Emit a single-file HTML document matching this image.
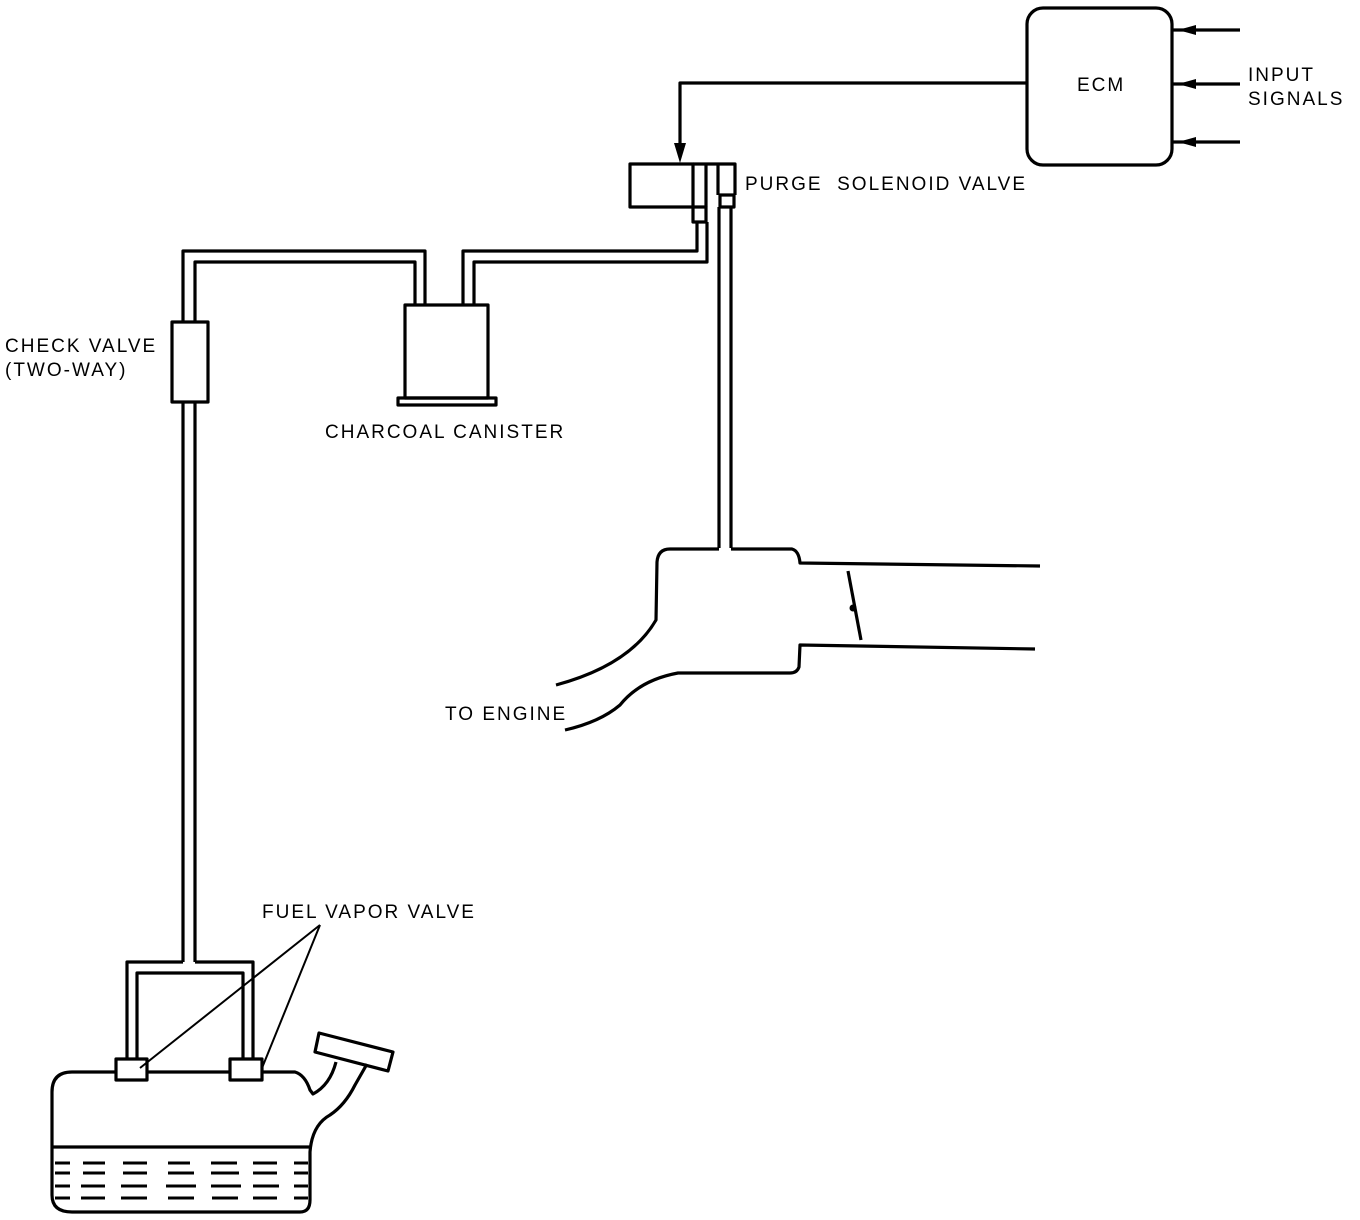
<!DOCTYPE html>
<html><head><style>
html,body{margin:0;padding:0;background:#fff;}
svg{display:block;}
text{font-family:"Liberation Sans",Arial,sans-serif;font-size:19px;fill:#000;letter-spacing:2px;}
</style></head><body>
<svg width="1360" height="1220" viewBox="0 0 1360 1220" xmlns="http://www.w3.org/2000/svg">
<g fill="none" stroke="#000" stroke-width="3.2" stroke-linejoin="round">
<rect x="1027" y="8" width="145" height="157" rx="16"/>
<line x1="1172" y1="30" x2="1240" y2="30"/>
<line x1="1172" y1="84" x2="1240" y2="84"/>
<line x1="1172" y1="142" x2="1240" y2="142"/>
<polyline points="1027,83 680,83 680,150"/>
<rect x="630" y="164" width="63" height="43"/>
<polyline points="693,164 735,164 735,195"/>
<line x1="706" y1="164" x2="706" y2="207"/>
<line x1="718" y1="164" x2="718" y2="195"/>
<rect x="693" y="207" width="13" height="15"/>
<rect x="720" y="195" width="14" height="12"/>
<polyline points="463,305 463,251 697,251 697,222"/>
<polyline points="474,305 474,262 707,262 707,222"/>
<line x1="719" y1="207" x2="719" y2="548"/>
<line x1="731" y1="207" x2="731" y2="548"/>
<polyline points="425,305 425,251 183,251 183,322"/>
<polyline points="415,305 415,262 195,262 195,322"/>
<rect x="405" y="305" width="83" height="93"/>
<rect x="398" y="398" width="98" height="7"/>
<rect x="172" y="322" width="36" height="80"/>
<line x1="183" y1="402" x2="183" y2="962"/>
<line x1="195" y1="402" x2="195" y2="962"/>
<polyline points="183,962 127,962 127,1058"/>
<polyline points="195,962 253,962 253,1058"/>
<polyline points="137,1058 137,973 243,973 243,1058"/>
<rect x="116" y="1059" width="31" height="21"/>
<rect x="230" y="1059" width="32" height="21"/>
<line x1="320" y1="925" x2="140" y2="1068" stroke-width="2"/>
<line x1="320" y1="925" x2="262" y2="1068" stroke-width="2"/>
<path d="M116,1072 L72,1072 Q52,1072 52,1092 L52,1195 Q52,1212 72,1212 L300,1212 Q310,1212 310,1200 L310,1152 Q312,1125 330,1115 Q345,1105 355,1085 L367,1064"/>
<line x1="147" y1="1072" x2="230" y2="1072"/>
<path d="M262,1072 L295,1072 Q305,1075 310,1090 L313,1094 Q330,1085 336,1062"/>
<polygon points="319,1033 393,1052 388,1071 315,1052"/>
<line x1="52" y1="1147" x2="310" y2="1147"/>
<path d="M719,549 L670,549 Q658,549 657,562 L656,620 Q630,665 556,685"/>
<path d="M731,549 L792,549 Q799,551 800,563 L1040,566"/>
<path d="M1035,649 L800,645 L799,667 Q797,673 790,673 L678,673 Q640,680 620,705 Q600,722 565,730"/>
<line x1="848" y1="571" x2="861" y2="640"/>
</g>
<g stroke="#000" stroke-width="3">
<path d="M55,1163h15M83,1163h22M123,1163h24M168,1163h22M211,1163h26M253,1163h24M294,1163h14
M55,1173h15M83,1173h22M123,1173h24M168,1173h26M211,1173h28M253,1173h24M294,1173h14
M55,1186h15M81,1186h24M121,1186h26M166,1186h30M211,1186h30M253,1186h26M294,1186h14
M55,1198h15M81,1198h24M121,1198h26M168,1198h26M212,1198h26M253,1198h24M294,1198h14"/>
</g>
<g fill="#000">
<polygon points="1178,30 1196,25 1196,35"/>
<polygon points="1178,84 1196,79 1196,89"/>
<polygon points="1178,142 1196,137 1196,147"/>
<polygon points="680,163 674,143 686,143"/>
<circle cx="853" cy="608" r="3.5"/>
</g>
<text x="1077" y="91">ECM</text>
<text x="1248" y="81">INPUT</text>
<text x="1248" y="105">SIGNALS</text>
<text x="745" y="190">PURGE&#160;&#160;SOLENOID VALVE</text>
<text x="5" y="352">CHECK VALVE</text>
<text x="5" y="376">(TWO-WAY)</text>
<text x="325" y="438">CHARCOAL CANISTER</text>
<text x="445" y="720">TO ENGINE</text>
<text x="262" y="918">FUEL VAPOR VALVE</text>
</svg>
</body></html>
